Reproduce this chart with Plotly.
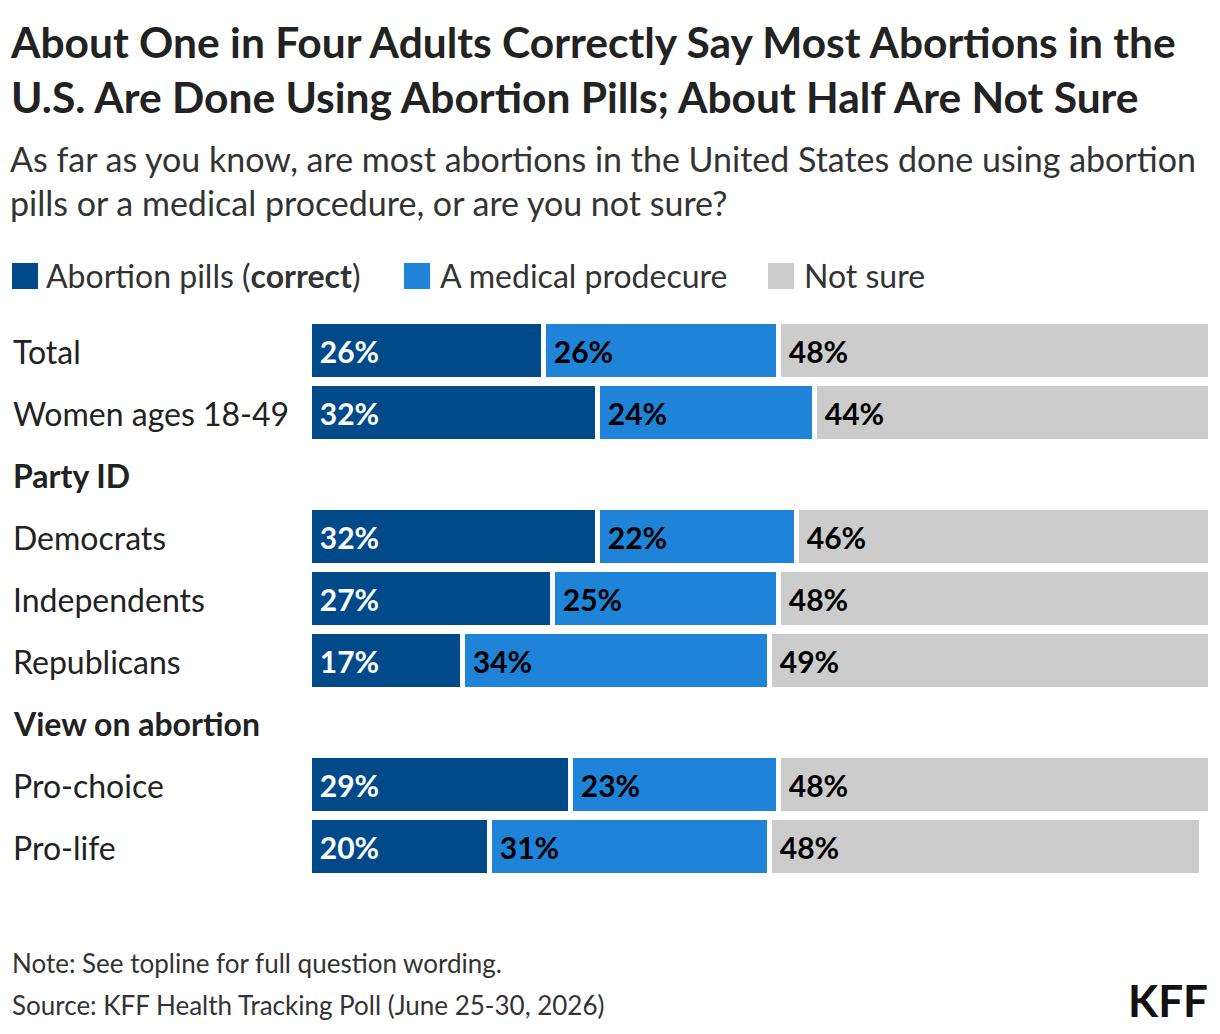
import plotly.graph_objects as go

rows = ["Total", "Women ages 18-49", "Party ID", "Democrats", "Independents", "Republicans",
        "View on abortion", "Pro-choice", "Pro-life"]
headings = {"Party ID", "View on abortion"}
pills = [26, 32, None, 32, 27, 17, None, 29, 20]
procedure = [26, 24, None, 22, 25, 34, None, 23, 31]
notsure = [48, 44, None, 46, 48, 49, None, 48, 48]
legend_names = ["Abortion pills (<b>correct</b>)", "A medical prodecure", "Not sure"]
colors = ["#004a8a", "#1f83d8", "#cccccc"]

FONT = "Source Sans Pro, Lato, Roboto, sans-serif"
OX, OY = 8, 8  # page body margin compensation
W, H = 1220 - 2 * OX, 1034 - 2 * OY
ys = list(range(len(rows)))
fig = go.Figure()
for name, vals, col, tcol in zip(legend_names, [pills, procedure, notsure], colors,
                                 ["white", "black", "black"]):
    fig.add_trace(go.Bar(
        y=ys, x=vals, name=name, orientation="h", width=0.95,
        marker=dict(color=col, line=dict(color="white", width=5)),
        text=[f" {v}%" if v is not None else "" for v in vals],
        textposition="inside", insidetextanchor="start",
        textfont=dict(family=FONT, size=30, color=tcol, weight="bold"),
        cliponaxis=False, showlegend=False))

L, R, T, B = 310 - OX, 1220 - 1211 - OX, 320 - OY, 1034 - 878 - OY
PW, PH = W - L - R, H - T - B
def px(x): return (x - OX - L) / PW
def py(y): return 1 - (y - OY - T) / PH

ann = []
for i, r in enumerate(rows):
    ann.append(dict(x=px(11), y=i, xref="paper", yref="y", xanchor="left", yanchor="middle",
                    text=f"<b>{r}</b>" if r in headings else r, showarrow=False,
                    font=dict(family=FONT, size=32, color="#222")))
shapes = []
for sx, tx, name, col in zip([12, 404, 768], [44, 438, 802], legend_names, colors):
    shapes.append(dict(type="rect", xref="paper", yref="paper", x0=px(sx), x1=px(sx + 26),
                       y0=py(289), y1=py(263), fillcolor=col, line=dict(width=0)))
    ann.append(dict(x=px(tx), y=py(276), xref="paper", yref="paper", xanchor="left", yanchor="middle",
                    text=name, showarrow=False, font=dict(family=FONT, size=32, color="#333")))
ann += [
    dict(x=px(8), y=py(14), xref="paper", yref="paper", xanchor="left", yanchor="top", align="left",
         text="<b>About One in Four Adults Correctly Say Most Abortions in the<br>U.S. Are Done Using Abortion Pills; About Half Are Not Sure</b>",
         showarrow=False, font=dict(family=FONT, size=42.5, color="#222")),
    dict(x=px(8), y=py(136), xref="paper", yref="paper", xanchor="left", yanchor="top", align="left",
         text="As far as you know, are most abortions in the United States done using abortion<br>pills or a medical procedure, or are you not sure?",
         showarrow=False, font=dict(family=FONT, size=34, color="#333")),
    dict(x=px(10), y=py(963), xref="paper", yref="paper", xanchor="left", yanchor="middle",
         text="Note: See topline for full question wording.", showarrow=False,
         font=dict(family=FONT, size=26, color="#333")),
    dict(x=px(10), y=py(1005), xref="paper", yref="paper", xanchor="left", yanchor="middle",
         text="Source: KFF Health Tracking Poll (June 25-30, 2026)", showarrow=False,
         font=dict(family=FONT, size=26, color="#333")),
    dict(x=px(1210), y=py(1000), xref="paper", yref="paper", xanchor="right", yanchor="middle",
         text="<b>KFF</b>", showarrow=False, font=dict(family=FONT, size=44, color="#111")),
]

fig.update_layout(
    width=W, height=H, margin=dict(l=L, r=R, t=T, b=B),
    barmode="stack", bargap=0, paper_bgcolor="white", plot_bgcolor="white",
    font=dict(family=FONT),
    xaxis=dict(range=[0, 100], visible=False),
    yaxis=dict(range=[8.5, -0.5], visible=False),
    showlegend=False, annotations=ann, shapes=shapes,
)
fig.write_html("out.html")
